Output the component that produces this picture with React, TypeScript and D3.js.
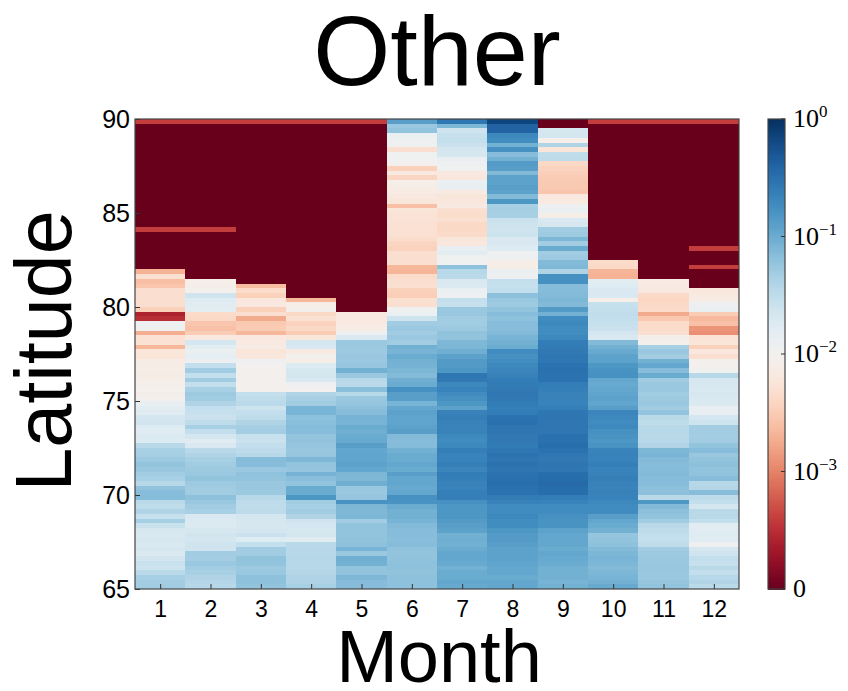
import React, { useEffect, useRef } from 'react';
import * as d3 from 'd3';

// share of "Other" per month, rows run north to south in 0.25 degree steps (90 -> 65)
const jan = [
  .0006, 0, 0, 0, 0, 0, 0, 0, 0, 0,
  0, 0, 0, 0, 0, 0, 0, 0, 0, 0,
  0, 0, 0, .0006, 0, 0, 0, 0, 0, 0,
  0, 0, .002, .005, .0025, .0028, .0048, .0048, .0048, .0048,
  .0035, .0004, .0005, .012, .011, .0019, .0052, .0052, .0022, .0058,
  .0058, .0075, .0078, .008, .0078, .0082, .009, .0095, .009, .0095,
  .014, .016, .017, .022, .023, .018, .017, .019, .018, .035,
  .045, .046, .052, .06, .056, .05, .045, .036, .062, .07,
  .072, .034, .032, .04, .028, .045, .027, .021, .02, .021,
  .02, .021, .019, .023, .027, .025, .034, .045, .048, .05,
];
const feb = [
  .0006, 0, 0, 0, 0, 0, 0, 0, 0, 0,
  0, 0, 0, 0, 0, 0, 0, 0, 0, 0,
  0, 0, 0, .0006, 0, 0, 0, 0, 0, 0,
  0, 0, 0, 0, .0085, .009, .0095, .024, .018, .017,
  .016, .0045, .0042, .0028, .0026, .0032, .0065, .022, .016, .013,
  .015, .012, .03, .05, .03, .05, .03, .045, .052, .05,
  .04, .03, .028, .026, .032, .045, .03, .022, .017, .02,
  .035, .04, .045, .05, .052, .055, .06, .052, .05, .05,
  .065, .055, .05, .045, .02, .019, .019, .021, .023, .022,
  .024, .024, .05, .048, .055, .05, .045, .04, .038, .036,
];
const mar = [
  .0006, 0, 0, 0, 0, 0, 0, 0, 0, 0,
  0, 0, 0, 0, 0, 0, 0, 0, 0, 0,
  0, 0, 0, 0, 0, 0, 0, 0, 0, 0,
  0, 0, 0, 0, 0, .0024, .0045, .0035, .0062, .0065,
  .0035, .0048, .0018, .003, .0032, .0022, .0065, .0068, .0075, .0058,
  .0062, .012, .01, .0095, .0095, .0095, .0098, .0098, .03, .032,
  .034, .025, .03, .032, .04, .046, .048, .028, .026, .03,
  .033, .036, .072, .07, .055, .063, .06, .056, .056, .054,
  .036, .033, .032, .033, .022, .021, .021, .022, .026, .018,
  .03, .05, .05, .062, .06, .052, .055, .065, .064, .06,
];
const apr = [
  .0006, 0, 0, 0, 0, 0, 0, 0, 0, 0,
  0, 0, 0, 0, 0, 0, 0, 0, 0, 0,
  0, 0, 0, 0, 0, 0, 0, 0, 0, 0,
  0, 0, 0, 0, 0, 0, 0, 0, .0022, .008,
  .009, .0042, .0052, .0036, .0042, .0032, .006, .022, .02, .007,
  .0095, .008, .018, .021, .022, .02, .012, .01, .04, .045,
  .05, .085, .085, .065, .068, .072, .07, .06, .062, .058,
  .056, .058, .078, .06, .058, .088, .068, .06, .1, .1,
  .15, .05, .045, .05, .04, .024, .022, .021, .022, .017,
  .035, .036, .036, .037, .036, .036, .038, .04, .042, .045,
];
const may = [
  .0006, 0, 0, 0, 0, 0, 0, 0, 0, 0,
  0, 0, 0, 0, 0, 0, 0, 0, 0, 0,
  0, 0, 0, 0, 0, 0, 0, 0, 0, 0,
  0, 0, 0, 0, 0, 0, 0, 0, 0, 0,
  0, .0065, .0065, .0068, .0075, .012, .02, .055, .055, .052,
  .055, .055, .058, .09, .055, .036, .034, .068, .036, .055,
  .058, .066, .07, .086, .085, .1, .095, .1, .105, .13,
  .11, .115, .115, .12, .11, .08, .078, .095, .055, .055,
  .058, .16, .08, .078, .08, .05, .06, .06, .06, .062,
  .065, .085, .055, .095, .09, .06, .062, .078, .07, .07,
];
const jun = [
  .13, .055, .06, .013, .012, .012, .0048, .011, .011, .01,
  .0035, .0065, .0038, .0085, .0078, .0072, .0065, .006, .0025, .0058,
  .0055, .0055, .0052, .0052, .0052, .0046, .0038, .0036, .0048, .0048,
  .005, .0022, .0021, .0045, .0048, .005, .0035, .0033, .005, .0048,
  .011, .013, .025, .05, .055, .05, .055, .05, .09, .085,
  .1, .09, .088, .08, .075, .095, .1, .17, .13, .13,
  .085, .11, .12, .115, .115, .12, .13, .075, .07, .072,
  .09, .1, .1, .11, .1, .13, .11, .11, .105, .11,
  .17, .16, .1, .09, .09, .085, .075, .07, .07, .068,
  .07, .062, .06, .062, .065, .065, .062, .064, .065, .065,
];
const jul = [
  .28, .08, .024, .028, .03, .026, .022, .021, .014, .012,
  .011, .0065, .0062, .013, .014, .0068, .006, .0062, .007, .0048,
  .0046, .005, .0042, .0042, .0044, .006, .0062, .014, .016, .011,
  .011, .065, .036, .034, .02, .019, .013, .012, .03, .028,
  .055, .056, .05, .05, .052, .062, .06, .078, .08, .095,
  .12, .14, .14, .15, .28, .27, .2, .22, .19, .17,
  .15, .12, .23, .24, .23, .22, .23, .2, .19, .2,
  .24, .22, .22, .24, .21, .25, .24, .23, .22, .24,
  .24, .17, .15, .15, .15, .14, .13, .12, .09, .095,
  .09, .1, .11, .11, .105, .09, .1, .1, .11, .105,
];
const aug = [
  .7, .42, .4, .2, .18, .09, .17, .07, .09, .14,
  .13, .075, .12, .12, .13, .12, .075, .15, .045, .046,
  .045, .026, .025, .024, .025, .02, .02, .018, .012, .012,
  .0082, .008, .013, .012, .03, .028, .03, .066, .055, .052,
  .06, .07, .065, .07, .07, .075, .085, .09, .1, .19,
  .17, .18, .2, .21, .23, .25, .26, .27, .28, .27,
  .26, .24, .25, .3, .31, .29, .28, .27, .27, .26,
  .28, .3, .29, .3, .29, .3, .32, .33, .31, .3,
  .26, .23, .19, .19, .2, .18, .18, .15, .14, .14,
  .13, .12, .12, .12, .115, .11, .11, .1, .11, .11,
];
const sep = [
  0, 0, .021, .022, .0085, .04, .0058, .032, .033, .0042,
  .0036, .0034, .0032, .003, .003, .0028, .0065, .0068, .012, .013,
  .008, .02, .021, .05, .052, .08, .05, .1, .05, .052,
  .075, .078, .04, .17, .17, .07, .072, .075, .08, .075,
  .14, .09, .19, .2, .18, .18, .2, .25, .26, .27,
  .28, .28, .3, .31, .3, .3, .25, .24, .23, .23,
  .22, .24, .28, .29, .28, .29, .28, .31, .31, .33,
  .3, .28, .27, .29, .28, .33, .34, .35, .34, .33,
  .25, .22, .19, .19, .17, .16, .16, .12, .11, .11,
  .11, .1, .11, .105, .1, .09, .09, .09, .085, .09,
];
const oct = [
  .0006, 0, 0, 0, 0, 0, 0, 0, 0, 0,
  0, 0, 0, 0, 0, 0, 0, 0, 0, 0,
  0, 0, 0, 0, 0, 0, 0, 0, 0, 0,
  .0045, .0042, .0021, .002, .016, .018, .02, .02, .0085, .028,
  .03, .031, .03, .028, .026, .022, .02, .075, .09, .105,
  .12, .12, .15, .16, .17, .11, .105, .11, .115, .12,
  .115, .13, .21, .2, .19, .2, .17, .16, .15, .16,
  .22, .23, .22, .24, .22, .23, .24, .23, .22, .23,
  .22, .2, .19, .19, .13, .11, .1, .09, .058, .06,
  .065, .075, .08, .085, .08, .075, .08, .085, .09, .105,
];
const nov = [
  .0006, 0, 0, 0, 0, 0, 0, 0, 0, 0,
  0, 0, 0, 0, 0, 0, 0, 0, 0, 0,
  0, 0, 0, 0, 0, 0, 0, 0, 0, 0,
  0, 0, 0, 0, .0072, .007, .0065, .0042, .004, .0042,
  .0045, .0018, .003, .0045, .0044, .0048, .009, .0095, .045, .055,
  .05, .09, .11, .07, .1, .05, .055, .055, .05, .052,
  .055, .05, .06, .034, .032, .035, .036, .035, .036, .04,
  .08, .085, .075, .07, .072, .075, .07, .07, .066, .065,
  .035, .15, .075, .066, .06, .05, .035, .032, .03, .03,
  .032, .05, .052, .055, .055, .056, .055, .055, .058, .06,
];
const dec = [
  .0006, 0, 0, 0, 0, 0, 0, 0, 0, 0,
  0, 0, 0, 0, 0, 0, 0, 0, 0, 0,
  0, 0, 0, 0, 0, 0, 0, .0006, 0, 0,
  0, .0006, 0, 0, 0, 0, .0062, .0068, .0075, .012,
  .013, .0032, .0023, .0026, .0013, .0012, .0055, .0058, .0035, .0062,
  .0048, .0095, .0098, .0105, .036, .021, .021, .02, .021, .02,
  .019, .014, .014, .022, .025, .048, .05, .048, .05, .06,
  .07, .056, .06, .066, .06, .062, .07, .036, .038, .07,
  .033, .03, .022, .035, .035, .03, .016, .017, .018, .017,
  .012, .021, .024, .03, .028, .035, .03, .036, .04, .034,
];

const months = [1, 2, 3, 4, 5, 6, 7, 8, 9, 10, 11, 12];
const monthValues = [jan, feb, mar, apr, may, jun, jul, aug, sep, oct, nov, dec];
const latTicks = [65, 70, 75, 80, 85, 90];
const latStep = 0.25;
const barTicks = [0, 0.001, 0.01, 0.1, 1];
const barExponents = [null, '\u22123', '\u22122', '\u22121', '0'];

const plot = { left: 135, right: 739, top: 119, bottom: 589 };
const bar = { left: 768, right: 785 };
const sansFont = '"Liberation Sans", Arial, sans-serif';
const serifFont = '"Liberation Serif", "DejaVu Serif", serif';

// symlog colour position: 0..1e-3 takes one linear quarter, then one quarter per decade
const linPart = d3.scaleLinear().domain([0, 0.001]).range([0, 0.25]);
const logPart = d3.scaleLog().domain([0.001, 1]).range([0.25, 1]);
const colorPos = (v: number) => (v <= 0.001 ? linPart(v) : logPart(v));

export default function App() {
  const ref = useRef<SVGSVGElement>(null);

  useEffect(() => {
    const svg = d3.select(ref.current);
    svg.selectAll('*').remove();

    const x = d3.scaleLinear().domain([0.5, 12.5]).range([plot.left, plot.right]);
    const y = d3.scaleLinear().domain([65, 90]).range([plot.bottom, plot.top]);

    // the reference is a soft bitmap, so the cells get a slight blur
    const defs = svg.append('defs');
    defs.append('filter').attr('id', 'soft')
      .append('feGaussianBlur').attr('stdDeviation', 0.6);
    defs.append('clipPath').attr('id', 'plotClip')
      .append('rect')
      .attr('x', plot.left).attr('y', plot.top)
      .attr('width', plot.right - plot.left).attr('height', plot.bottom - plot.top);

    // heatmap
    const columns = svg.append('g').attr('clip-path', 'url(#plotClip)')
      .append('g').attr('filter', 'url(#soft)').attr('shape-rendering', 'crispEdges')
      .selectAll('g')
      .data(monthValues)
      .join('g');
    columns.selectAll('rect')
      .data((d, m) => d.map((value, row) => ({ value, row, month: months[m] })))
      .join('rect')
      .attr('x', d => x(d.month - 0.5))
      .attr('width', d => x(d.month + 0.5) - x(d.month - 0.5))
      .attr('y', d => y(90 - d.row * latStep))
      .attr('height', d => y(90 - (d.row + 1) * latStep) - y(90 - d.row * latStep))
      .attr('fill', d => d3.interpolateRdBu(colorPos(d.value)));

    // axes
    const xAxis = svg.append('g')
      .attr('transform', `translate(0,${plot.bottom})`)
      .call(d3.axisBottom(x).tickValues(months).tickFormat(d3.format('d')).tickSize(-5).tickPadding(12));
    const yAxis = svg.append('g')
      .attr('transform', `translate(${plot.left},0)`)
      .call(d3.axisLeft(y).tickValues(latTicks).tickFormat(d3.format('d')).tickSize(-5).tickPadding(5));
    [xAxis, yAxis].forEach(a => {
      a.select('.domain').remove();
      a.selectAll('line').attr('stroke', '#333');
      a.selectAll('text').attr('fill', '#000').style('font-family', sansFont);
    });
    xAxis.selectAll('text').style('font-size', '23px');
    yAxis.selectAll('text').style('font-size', '25px');

    svg.append('rect')
      .attr('x', plot.left).attr('y', plot.top)
      .attr('width', plot.right - plot.left).attr('height', plot.bottom - plot.top)
      .attr('fill', 'none').attr('stroke', '#444').attr('stroke-width', 1.2);

    // colorbar
    const barY = d3.scaleLinear().domain([0, 1]).range([plot.bottom, plot.top]);
    const levels = d3.range(0, 256);
    svg.append('g').attr('shape-rendering', 'crispEdges')
      .selectAll('rect')
      .data(levels)
      .join('rect')
      .attr('x', bar.left)
      .attr('width', bar.right - bar.left)
      .attr('y', d => barY((d + 1) / 256))
      .attr('height', d => barY(d / 256) - barY((d + 1) / 256) + 0.5)
      .attr('fill', d => d3.interpolateRdBu((d + 0.5) / 256));
    svg.append('rect')
      .attr('x', bar.left).attr('y', plot.top)
      .attr('width', bar.right - bar.left).attr('height', plot.bottom - plot.top)
      .attr('fill', 'none').attr('stroke', '#444').attr('stroke-width', 1.2);

    const barLabels = svg.append('g').selectAll('g')
      .data(barTicks)
      .join('g')
      .attr('transform', d => `translate(0,${barY(colorPos(d))})`);
    barLabels.append('line')
      .attr('x1', bar.right - 4).attr('x2', bar.right)
      .attr('stroke', '#333');
    const barText = barLabels.append('text')
      .attr('x', bar.right + 8)
      .attr('y', 8)
      .style('font-family', serifFont)
      .style('font-size', '26px')
      .attr('fill', '#000')
      .text(d => (d === 0 ? '0' : '10'));
    barText.append('tspan')
      .attr('dy', -10)
      .style('font-size', '17px')
      .text((d, i) => barExponents[i] ?? '');

    // titles
    svg.append('text')
      .attr('x', 437).attr('y', 85)
      .attr('text-anchor', 'middle')
      .style('font-family', sansFont).style('font-size', '99px')
      .text('Other');
    svg.append('text')
      .attr('x', 439).attr('y', 682)
      .attr('text-anchor', 'middle')
      .style('font-family', sansFont).style('font-size', '74px')
      .text('Month');
    svg.append('text')
      .attr('transform', 'translate(71,351) rotate(-90)')
      .attr('text-anchor', 'middle')
      .style('font-family', sansFont).style('font-size', '79px')
      .text('Latitude');
  }, []);

  return (
    <svg
      ref={ref}
      width={848}
      height={691}
      style={{ position: 'absolute', left: 0, top: 0, background: '#fff' }}
    />
  );
}
